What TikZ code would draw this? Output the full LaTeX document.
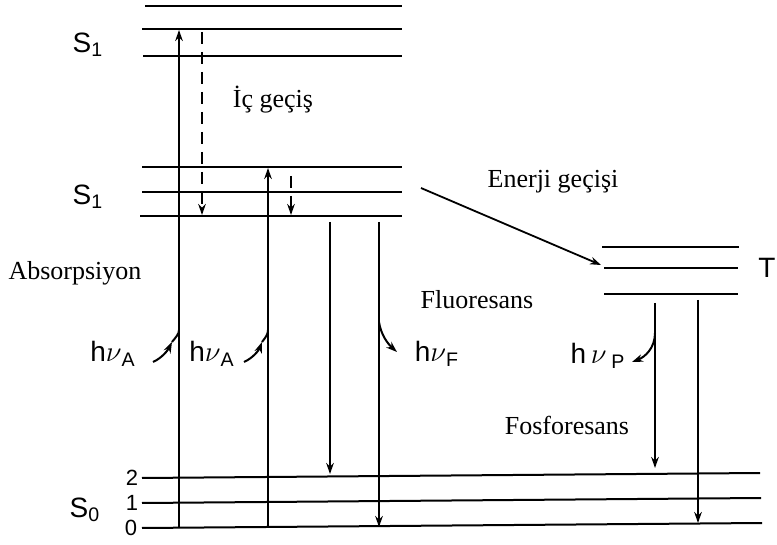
\documentclass[tikz,border=0pt]{standalone}
\usepackage{fontspec}
\setmainfont{Liberation Serif}
\newfontfamily\lsans{Liberation Sans}
\usetikzlibrary{arrows.meta}
\begin{document}
\begin{tikzpicture}[x=0.5pt,y=-0.5pt, line width=1pt,
  arr/.style={-{Stealth[length=5.5pt,width=3.8pt]}},
  dsh/.style={dash pattern=on 6pt off 4pt},
  txt/.style={font=\fontsize{13}{15}\selectfont, inner sep=0},
  lab/.style={font=\lsans\fontsize{14}{16}\selectfont, inner sep=0},
  num/.style={font=\lsans\fontsize{11}{12}\selectfont, inner sep=0}]
\useasboundingbox (0,0) rectangle (777,545);
% upper S1 levels
\draw (145,6) -- (402,6);
\draw (142,29) -- (402,29);
\draw (143,56) -- (402,56);
% lower S1 levels
\draw (142,167) -- (402,167);
\draw (142,192) -- (402,192);
\draw (140,216) -- (402,216);
% T levels
\draw (602,247) -- (739,247);
\draw (604,268) -- (738,268);
\draw (604,294) -- (738,294);
% S0 levels
\draw (142,478) -- (760,473);
\draw (142,503) -- (761,498);
\draw (142,528) -- (762,523);
% coordinates
\coordinate (a1b) at (179,528);
\coordinate (a1t) at (179,30);
\coordinate (d1t) at (202,32);
\coordinate (d1b) at (202,215);
\coordinate (a2b) at (268,527);
\coordinate (a2t) at (268,168);
\coordinate (d2t) at (291,176);
\coordinate (d2b) at (291,215);
\coordinate (f1t) at (330,222);
\coordinate (f1b) at (330,474);
\coordinate (f2t) at (379,222);
\coordinate (f2b) at (379,527);
\coordinate (p1t) at (655,303);
\coordinate (p1b) at (655,468);
\coordinate (p2t) at (698,300);
\coordinate (p2b) at (698,523);
\coordinate (et1) at (421,188);
\coordinate (et2) at (601,265);
% transitions
\draw[arr] (a1b) -- (a1t);
\draw[arr,dsh] (d1t) -- (d1b);
\draw[arr] (a2b) -- (a2t);
\draw[arr,dsh] (d2t) -- (d2b);
\draw[arr] (f1t) -- (f1b);
\draw[arr] (f2t) -- (f2b);
\draw[arr] (p1t) -- (p1b);
\draw[arr] (p2t) -- (p2b);
\draw[arr,line width=0.9pt] (et1) -- (et2);
% photon curves
\coordinate (c1s) at (153,362); \coordinate (c1m) at (172,342); \coordinate (c1e) at (179,330);
\coordinate (c2s) at (244,362); \coordinate (c2m) at (262,342); \coordinate (c2e) at (268,330);
\coordinate (cfs) at (379,322); \coordinate (cfe) at (397,352);
\coordinate (cps) at (655,333); \coordinate (cpe) at (632,362);
\draw[arr] (c1s) .. controls (162,358) and (168,350) .. (c1m);
\draw (c1m) .. controls (176,337) and (179,334) .. (c1e);
\draw[arr] (c2s) .. controls (253,358) and (259,350) .. (c2m);
\draw (c2m) .. controls (266,337) and (268,334) .. (c2e);
\draw[arr] (cfs) .. controls (381,335) and (388,344) .. (cfe);
\draw[arr] (cps) .. controls (655,348) and (645,357) .. (cpe);
% labels
\node[lab] (s1a) at (88,45) {S\textsubscript{1}};
\node[lab] (s1b) at (88,197) {S\textsubscript{1}};
\node[lab] (s0) at (85,510) {S\textsubscript{0}};
\node[num] (n2) at (132,478) {2};
\node[num] (n1) at (132,503) {1};
\node[num] (n0) at (131,528) {0};
\node[lab] (tl) at (767,268) {T};
\node[lab] (hA1) at (113,354) {h$\nu$\textsubscript{A}};
\node[lab] (hA2) at (212,354) {h$\nu$\textsubscript{A}};
\node[lab] (hF) at (437,354) {h$\nu$\textsubscript{F}};
\node[lab] (hP) at (598,356) {h\,$\nu$\,\textsubscript{P}};
\node[txt] (ic) at (273,100) {İç geçiş};
\node[txt] (abs) at (75,273) {Absorpsiyon};
\node[txt] (flu) at (477,300) {Fluoresans};
\node[txt] (fos) at (567,425) {Fosforesans};
\node[txt] (ene) at (553,182) {Enerji geçişi};
\end{tikzpicture}
\end{document}
